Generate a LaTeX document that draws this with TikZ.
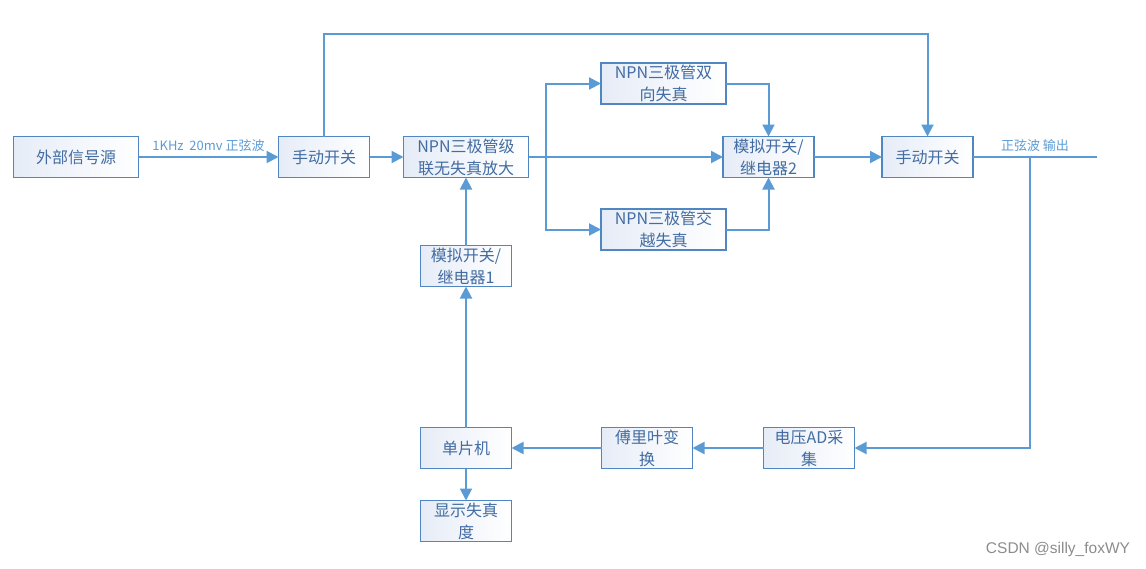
\documentclass[tikz,border=0pt]{standalone}
\usepackage{fontspec}
\setmainfont{Noto Sans CJK SC}
\newfontfamily\markfont{Liberation Sans}
\usetikzlibrary{positioning,arrows.meta,calc}

\definecolor{linecol}{RGB}{91,155,213}
\definecolor{edgecol}{RGB}{80,135,195}
\definecolor{textcol}{RGB}{66,108,162}
\definecolor{fillcol}{RGB}{230,236,247}

\tikzset{
  block/.style={draw=edgecol, line width=1.5pt, left color=fillcol,
    right color=white, text=textcol,
    font=\fontsize{16}{22}\selectfont, align=center, inner sep=0pt,
    outer sep=0pt, minimum width=91pt, minimum height=41pt},
  wideblock/.style={block, minimum width=125pt},
  conn/.style={draw=linecol, line width=2pt,
    -{Triangle[length=12pt,width=12pt]}},
  wire/.style={draw=linecol, line width=2pt},
  sig/.style={text=linecol, font=\fontsize{13}{15}\selectfont}
}

\begin{document}
\begin{tikzpicture}[x=1pt, y=-1pt]

  \useasboundingbox (0,0) rectangle (1146,568);

  % Define nodes
  \node[wideblock]                      (src)    at (76,157) {外部信号源};
  \node[block, right=140pt of src]      (sw1)    {手动开关};
  \node[wideblock, right=34pt of sw1]   (amp)    {NPN三极管级\\联无失真放大};
  \node[block]                          (relay2) at (768.5,157) {模拟开关/\\继电器2};
  \node[block, right=68pt of relay2]    (sw2)    {手动开关};
  \node[wideblock]                      (bidir)  at (663.5,83.5) {NPN三极管双\\向失真};
  \node[wideblock]                      (cross)  at (663.5,229.5) {NPN三极管交\\越失真};
  \node[block, below=68pt of amp]       (relay1) {模拟开关/\\继电器1};
  \node[block, below=141pt of relay1]   (mcu)    {单片机};
  \node[block, below=32pt of mcu]       (disp)   {显示失真\\度};
  \node[block, right=90pt of mcu]       (fft)    {傅里叶变\\换};
  \node[block, right=71pt of fft]       (adc)    {电压AD采\\集};

  \coordinate (branch) at (546,157);
  \coordinate (top)    at (600,34);
  \coordinate (tap)    at (1030,157);
  \coordinate (out)    at (1097,157);

  % Connect the nodes
  \draw[conn] (src) -- (sw1) node[sig, midway, above=1pt] {1KHz\ \ 20mv 正弦波};
  \draw[conn] (sw1) -- (amp);
  \draw[conn] (amp) -- (relay2);
  \draw[conn] (branch) |- (bidir.west);
  \draw[conn] (branch) |- (cross.west);
  \draw[conn] (bidir.east) -| (relay2.north);
  \draw[conn] (cross.east) -| (relay2.south);
  \draw[conn] (relay2) -- (sw2);
  \draw[conn] (sw1.north) |- (top) -| (sw2.north);
  \draw[wire] (sw2.east) -- (out) node[sig, midway, above=1pt] {正弦波 输出};
  \draw[conn] (tap) |- (adc.east);
  \draw[conn] (adc) -- (fft);
  \draw[conn] (fft) -- (mcu);
  \draw[conn] (mcu) -- (relay1);
  \draw[conn] (relay1) -- (amp);
  \draw[conn] (mcu) -- (disp);

  \node[text=black!45, font=\markfont\fontsize{15.5}{17}\selectfont] (mark) at (1058,549) {CSDN @silly\_foxWY};

\end{tikzpicture}
\end{document}
